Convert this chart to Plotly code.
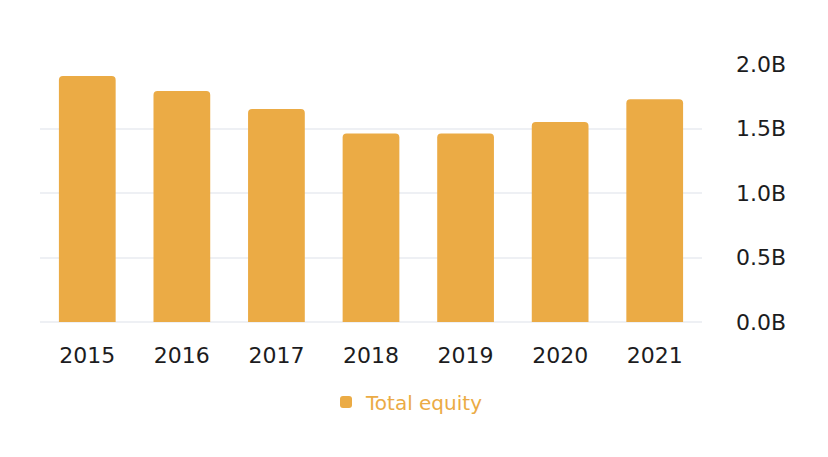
import plotly.graph_objects as go

years = ["2015", "2016", "2017", "2018", "2019", "2020", "2021"]
total_equity = [1.907e9, 1.790e9, 1.651e9, 1.462e9, 1.462e9, 1.550e9, 1.726e9]
tick_vals = [0, 0.5e9, 1.0e9, 1.5e9, 2.0e9]
tick_text = ["0.0B", "0.5B", "1.0B", "1.5B", "2.0B"]

bar_color = "#EBAB45"
font_family = "DejaVu Sans, sans-serif"

fig = go.Figure()
fig.add_trace(go.Bar(
    x=years, y=total_equity, name="Total equity",
    marker=dict(color=bar_color, line=dict(width=0)),
    showlegend=True,
))

fig.update_layout(
    width=828, height=457,
    margin=dict(l=32, r=134, t=56, b=143),
    paper_bgcolor="white", plot_bgcolor="white",
    bargap=0.40,
    barcornerradius=4,
    font=dict(family=font_family, size=22, color="#1c1c1e"),
    showlegend=True,
    legend=dict(
        orientation="h", xref="container", yref="container",
        x=318 / 828, xanchor="left", y=0.138, yanchor="middle",
        font=dict(family=font_family, size=20, color=bar_color),
        itemclick=False,
    ),
    xaxis=dict(
        type="category", showgrid=False, zeroline=False, showline=False,
        ticks="", ticklabelstandoff=18,
        tickfont=dict(family=font_family, size=22, color="#1c1c1e"),
    ),
    yaxis=dict(
        side="right", range=[0, 2.0e9],
        tickvals=tick_vals, ticktext=tick_text,
        showgrid=True, gridcolor="#eef0f4", gridwidth=1.5,
        zeroline=True, zerolinecolor="#eef0f4", zerolinewidth=1.5,
        showline=False, ticks="", ticklabelstandoff=33,
        tickfont=dict(family=font_family, size=22, color="#1c1c1e"),
    ),
)

fig.write_html("out.html")
